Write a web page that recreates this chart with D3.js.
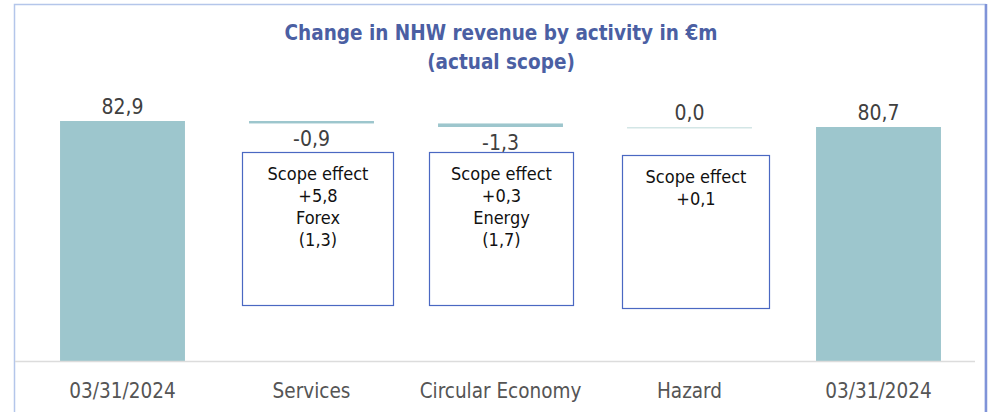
<!DOCTYPE html>
<meta charset="utf-8">
<script src="https://d3js.org/d3.v7.min.js"></script>
<style>
  body { margin: 0; background: #fff; }
  text { font-family: "DejaVu Sans Condensed", "DejaVu Sans", sans-serif; }
</style>
<div id="chart"></div>
<script>
// data
const categories = ["03/31/2024", "Services", "Circular Economy", "Hazard", "03/31/2024 "];
const kinds = ["total", "delta", "delta", "delta", "total"];
const values = [82.9, -0.9, -1.3, 0.0, 80.7];
const labels = ["82,9", "-0,9", "-1,3", "0,0", "80,7"];
const notes = [
  [],
  ["Scope effect", "+5,8", "Forex", "(1,3)"],
  ["Scope effect", "+0,3", "Energy", "(1,7)"],
  ["Scope effect", "+0,1"],
  []
];

const W = 991, H = 412;
const svg = d3.select("#chart").append("svg")
  .attr("width", W).attr("height", H);

// frame
svg.append("rect").attr("x", 14.5).attr("y", 4.5).attr("width", 971).attr("height", 420)
  .attr("fill", "none").attr("stroke", "#b4c6ea").attr("stroke-width", 1.5);
svg.append("line").attr("x1", 986).attr("x2", 986).attr("y1", 4).attr("y2", H)
  .attr("stroke", "#7f93d8").attr("stroke-width", 2.5);

// title
svg.append("text").attr("x", 501).attr("y", 40).attr("text-anchor", "middle")
  .style("font-size", "20.5px").style("font-weight", "bold").attr("fill", "#4b5fa3")
  .text("Change in NHW revenue by activity in €m");
svg.append("text").attr("x", 501).attr("y", 69).attr("text-anchor", "middle")
  .style("font-size", "20.5px").style("font-weight", "bold").attr("fill", "#4b5fa3")
  .text("(actual scope)");

// scales
const x = d3.scaleBand().domain(categories).range([28, 973]).paddingInner(0.339).paddingOuter(0.1695);
const y = d3.scaleLinear().domain([-5.1, 82.9]).range([361, 121]);

// running totals
let run = 0;
const bars = categories.map((c, i) => {
  let start, end;
  if (kinds[i] === "total") { start = y.domain()[0]; end = values[i]; run = values[i]; }
  else { start = run; end = run + values[i]; run = end; }
  return {cat: c, start, end, kind: kinds[i], value: values[i], label: labels[i], note: notes[i]};
});

svg.selectAll("rect.bar").data(bars).join("rect")
  .attr("class", "bar")
  .attr("x", d => x(d.cat))
  .attr("width", x.bandwidth())
  .attr("y", d => Math.min(y(d.start), y(d.end)))
  .attr("height", d => Math.max(1.5, Math.abs(y(d.start) - y(d.end))))
  .attr("fill", d => d.kind === "delta" && d.value === 0 ? "#d3e6e6" : "#9dc6cd");

// axis line
svg.append("line").attr("x1", 15).attr("x2", 975).attr("y1", 361.5).attr("y2", 361.5)
  .attr("stroke", "#dcdcdc").attr("stroke-width", 1.5);

// category labels
svg.selectAll("text.cat").data(bars).join("text")
  .attr("class", "cat")
  .attr("x", d => x(d.cat) + x.bandwidth() / 2)
  .attr("y", 398)
  .attr("text-anchor", "middle")
  .style("font-size", "20.5px").attr("fill", "#555")
  .text(d => d.cat.trim());

// value labels
svg.selectAll("text.val").data(bars).join("text")
  .attr("class", "val")
  .attr("x", d => x(d.cat) + x.bandwidth() / 2)
  .attr("y", d => d.value < 0 ? y(d.end) + 23 : y(Math.max(d.start, d.end)) - 7)
  .attr("text-anchor", "middle")
  .style("font-size", "21px").attr("fill", "#404040")
  .text(d => d.label);

// annotation boxes
const boxes = bars.filter(d => d.note.length);
const bx = {"Services": [242, 152], "Circular Economy": [429, 152], "Hazard": [622, 155]};
const bw = {"Services": 151, "Circular Economy": 144, "Hazard": 147};
const g = svg.selectAll("g.note").data(boxes).join("g").attr("class", "note")
  .attr("transform", d => `translate(${bx[d.cat][0]},${bx[d.cat][1]})`);
g.append("rect").attr("x", 0.5).attr("y", 0.5)
  .attr("width", d => bw[d.cat]).attr("height", 153)
  .attr("fill", "#fff").attr("stroke", "#4a68c2").attr("stroke-width", 1.2);
g.each(function(d) {
  d3.select(this).selectAll("text").data(d.note).join("text")
    .attr("x", bw[d.cat] / 2 + 0.5)
    .attr("y", (t, i) => 28 + i * 22)
    .attr("text-anchor", "middle")
    .style("font-size", "18px").attr("fill", "#111")
    .text(t => t);
});
</script>
